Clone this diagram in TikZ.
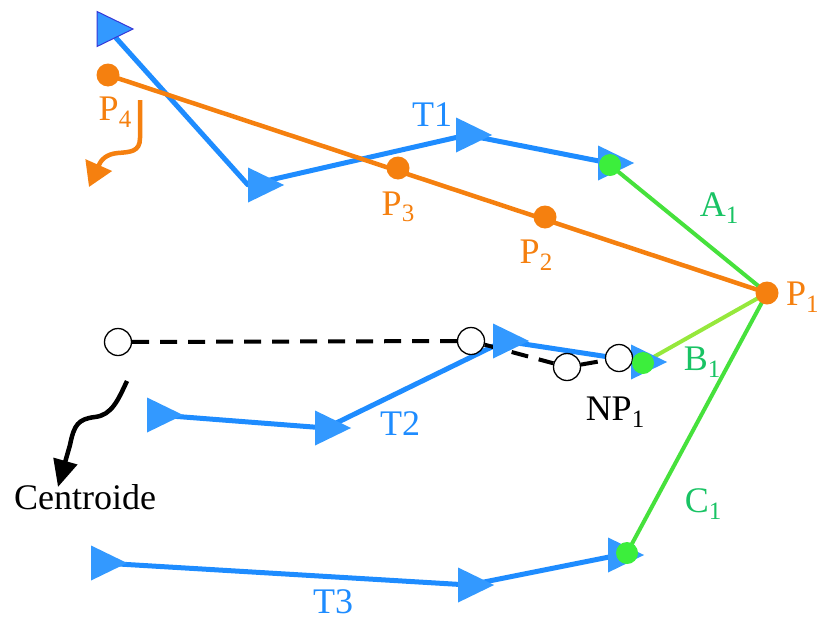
\documentclass[tikz,border=0pt]{standalone}
\usepackage{fontspec}
\setmainfont{Liberation Serif}
\usetikzlibrary{shapes.geometric,arrows.meta}
\definecolor{tblue}{RGB}{51,153,255}
\definecolor{lblue}{RGB}{30,140,255}
\definecolor{tedge}{RGB}{55,55,215}
\definecolor{orng}{RGB}{245,128,15}
\definecolor{gdot}{RGB}{60,238,60}
\definecolor{gline}{RGB}{70,225,60}
\definecolor{gline2}{RGB}{150,232,60}
\definecolor{gtext}{RGB}{25,195,100}
\newcommand{\sbs}[1]{\raisebox{-0.18em}{\fontsize{25}{25}\selectfont #1}}
\pgfdeclarelayer{bg}
\pgfsetlayers{bg,main}
\begin{document}
\begin{tikzpicture}[x=1pt,y=-1pt,
  tri/.style={isosceles triangle, isosceles triangle stretches, minimum width=35pt, minimum height=36pt, inner sep=0pt, outer sep=0pt, fill=tblue},
  odot/.style={circle, fill=orng, minimum size=23pt, inner sep=0pt},
  gdotst/.style={circle, fill=gdot, minimum size=22pt, inner sep=0pt},
  cent/.style={circle, draw=black, line width=1.3pt, fill=white, minimum size=27pt, inner sep=0pt},
  traj/.style={draw=lblue, line width=5pt, line join=round},
  lbl/.style={font=\fontsize{36}{40}\selectfont, inner sep=0pt},
  ]
\useasboundingbox (0,0) rectangle (818,621);
% triangles
\node[tri, draw=tedge, line width=1pt] (t1a) at (108,29) {};
\node[tri] (t1b) at (259,185) {};
\node[tri] (t1c) at (467,135) {};
\node[tri] (t1d) at (609,163) {};
\node[tri] (t2a) at (158,415) {};
\node[tri] (t2b) at (326,428) {};
\node[tri] (t2c) at (504,341) {};
\node[tri] (t2d) at (642,362) {};
\node[tri] (t3a) at (102,563) {};
\node[tri] (t3b) at (469,585) {};
\node[tri] (t3c) at (619,555) {};
% centroids
\node[cent] (c0) at (118,342) {};
\node[cent] (c1) at (471,341) {};
\node[cent] (c2) at (567,367) {};
\node[cent] (c3) at (619,358) {};
% orange points
\node[odot] (p4) at (108,75) {};
\node[odot] (p3) at (398,168) {};
\node[odot] (p2) at (545,217) {};
\node[odot] (p1) at (767,293) {};
% green points
\node[gdotst] (ga) at (610,165) {};
\node[gdotst] (gb) at (643,363) {};
\node[gdotst] (gc) at (627,553) {};
% connectors
\begin{pgfonlayer}{bg}
\draw[traj] (t1a.center) -- (t1b.west) -- (t1c.center) -- (t1d.center);
\draw[traj] (t2a.center) -- (t2b.center) -- (t2c.center) -- (t2d.center);
\draw[traj] (t3a.center) -- (t3b.center) -- (t3c.center);
\draw[orng, line width=4.5pt] (p4.center) -- (p1.center);
\draw[gline, line width=4pt] (ga.center) -- (p1.center);
\draw[gline2, line width=4pt] (p1.center) -- (gb.center);
\draw[gline, line width=4pt] (p1.center) -- (gc.center);
\draw[black, line width=4pt, dash pattern=on 17pt off 11pt] (c0) -- (c1) -- (c2) -- (c3);
\end{pgfonlayer}
% labels
\node[lbl, text=orng] (lp4) at (115,112) {P\sbs{4}};
\node[lbl, text=orng] (lp3) at (398,207) {P\sbs{3}};
\node[lbl, text=orng] (lp2) at (536,255) {P\sbs{2}};
\node[lbl, text=orng, anchor=west] (lp1) at (786,297) {P\sbs{1}};
\node[lbl, text=lblue] (lt1) at (432,115) {T1};
\node[lbl, text=lblue] (lt2) at (400,424) {T2};
\node[lbl, text=lblue] (lt3) at (333,602) {T3};
\node[lbl, text=gtext] (la1) at (719,208) {A\sbs{1}};
\node[lbl, text=gtext] (lb1) at (702,362) {B\sbs{1}};
\node[lbl, text=gtext] (lc1) at (703,504) {C\sbs{1}};
\node[lbl] (lnp) at (615,412) {NP\sbs{1}};
\node[lbl] (lcen) at (85,497) {Centroide};
% wavy arrows
\coordinate (oa) at (140,100);
\coordinate (ob) at (89,187);
\draw[orng, line width=4.5pt, -{Triangle[width=28pt,length=24pt]}]
  (oa) -- (140,138) .. controls (140,152) and (130,152) .. (118,153)
  .. controls (106,154) and (101,160) .. (ob);
\coordinate (ka) at (127,381);
\coordinate (kb) at (58,487);
\draw[black, line width=4.5pt, -{Triangle[width=24pt,length=27pt]}]
  (ka) .. controls (118,400) and (112,415) .. (95,417)
  .. controls (78,419) and (74,425) .. (70,445) -- (kb);
\end{tikzpicture}
\end{document}
